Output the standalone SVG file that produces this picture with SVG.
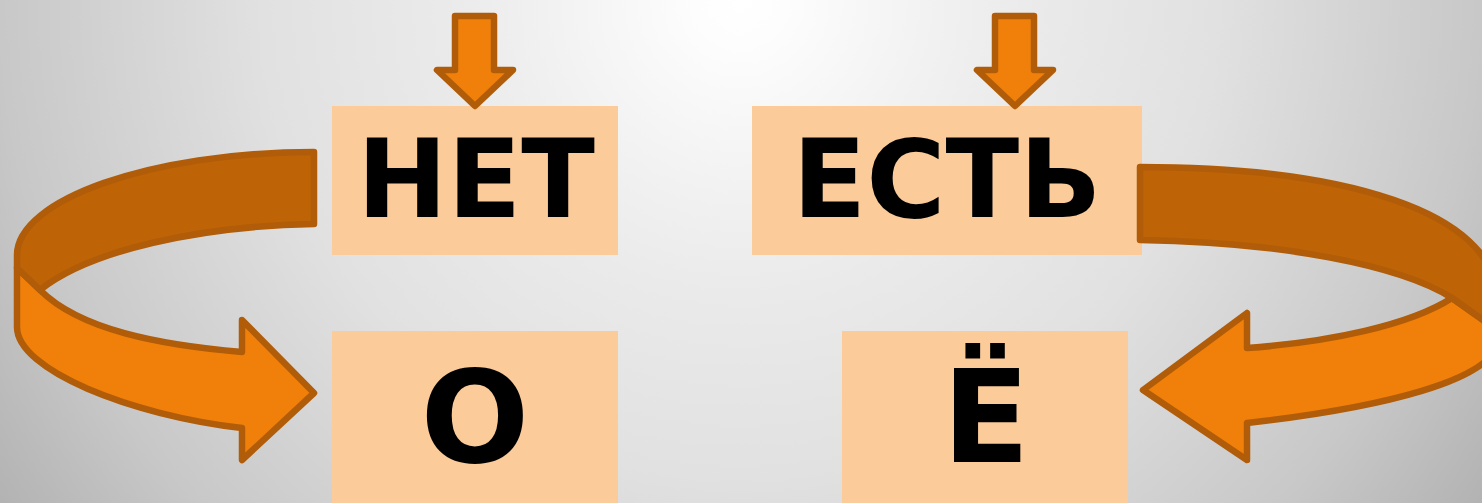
<svg xmlns="http://www.w3.org/2000/svg" width="1482" height="503" viewBox="0 0 1482 503">
  <defs>
    <radialGradient id="bg" gradientUnits="userSpaceOnUse" cx="740" cy="0" r="900">
      <stop offset="0" stop-color="#FFFFFF"/>
      <stop offset="0.05" stop-color="#FDFDFD"/>
      <stop offset="0.22" stop-color="#F1F1F1"/>
      <stop offset="0.33" stop-color="#EAEAEA"/>
      <stop offset="0.53" stop-color="#E1E1E1"/>
      <stop offset="0.82" stop-color="#C8C8C8"/>
      <stop offset="1" stop-color="#B2B2B2"/>
    </radialGradient>
  </defs>
  <style>
    .box { fill: #FBCB9A; }
    .lbl { font-family: "DejaVu Sans", "Liberation Sans", sans-serif; font-weight: bold; fill: #000000; text-anchor: middle; }
    .ar { stroke: #B15C08; stroke-width: 6.5; stroke-linejoin: round; }
    .front { fill: #F0800A; }
    .back { fill: #BE6306; }
  </style>
  <rect x="0" y="0" width="1482" height="503" fill="url(#bg)"/>

  <g id="node-net">
    <rect class="box" x="332" y="106" width="286" height="149"/>
    <text class="lbl" x="476" y="217" font-size="108">НЕТ</text>
  </g>
  <g id="node-est">
    <rect class="box" x="752" y="106" width="390" height="149"/>
    <text class="lbl" x="947" y="217" font-size="108">ЕСТЬ</text>
  </g>
  <g id="node-o">
    <rect class="box" x="332" y="331" width="286" height="172"/>
    <text class="lbl" x="475" y="462" font-size="128">О</text>
  </g>
  <g id="node-yo">
    <rect class="box" x="842" y="331" width="286" height="172"/>
    <text class="lbl" x="986" y="462" font-size="128">Ё</text>
  </g>

  <g id="connectors">
    <path class="ar front" d="M455,16 L494,16 L494,70 L513,70 L475,106 L437,70 L455,70 Z"/>
    <path class="ar front" d="M995,16 L1034,16 L1034,70 L1053,70 L1015,106 L977,70 L995,70 Z"/>

    <path class="ar front" d="M17,268 L40,290 C80,330 160,345 242,352 L242,320 L314,393 L242,460 L242,428 C130,415 17,370 17,327 Z"/>
    <path class="ar back" d="M314,152 L314,224 C200,226 90,250 40,290 L17,268 L17,255 C17,200 150,152 314,152 Z"/>

    <path class="ar front" d="M1452,298 L1497,330 L1497,340 C1497,380 1380,408 1247,423 L1247,460 L1143,390 L1247,313 L1247,348 C1330,342 1410,325 1452,298 Z"/>
    <path class="ar back" d="M1140,167 C1340,167 1497,210 1497,300 L1497,330 L1452,298 C1400,265 1280,242 1140,240 Z"/>
  </g>
</svg>
